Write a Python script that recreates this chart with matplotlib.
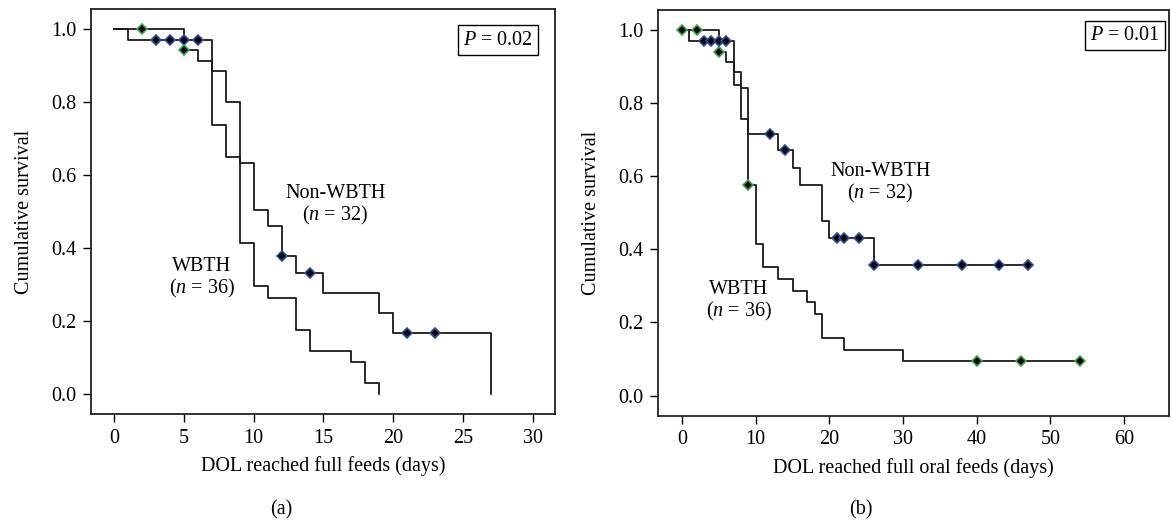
import numpy as np
import matplotlib
matplotlib.use("Agg")
import matplotlib.pyplot as plt

plt.rcParams['font.family'] = ['Liberation Serif', 'DejaVu Serif']
plt.rcParams['mathtext.fontset'] = 'custom'
plt.rcParams['mathtext.rm'] = 'Liberation Serif'
plt.rcParams['mathtext.it'] = 'Liberation Serif:italic'

# panel (a): full feeds
a_non_t = [0, 1, 7, 8, 9, 10, 11, 12, 13, 15, 19, 20, 27]
a_non_s = [1.0, 0.969, 0.885, 0.800, 0.632, 0.505, 0.462, 0.379, 0.331, 0.276, 0.222, 0.167, 0.0]
a_non_cx = [3, 4, 5, 6, 12, 14, 21, 23]
a_non_cy = [0.969, 0.969, 0.969, 0.969, 0.379, 0.331, 0.167, 0.167]

a_wb_t = [0, 5, 6, 7, 8, 9, 10, 11, 13, 14, 17, 18, 19]
a_wb_s = [1.0, 0.944, 0.913, 0.737, 0.649, 0.413, 0.296, 0.264, 0.176, 0.117, 0.089, 0.030, 0.0]
a_wb_cx = [2, 5]
a_wb_cy = [1.0, 0.944]

# panel (b): full oral feeds
b_non_t = [0, 1, 7, 8, 9, 13, 15, 16, 19, 20, 26, 47]
b_non_s = [1.0, 0.969, 0.885, 0.842, 0.716, 0.671, 0.622, 0.575, 0.479, 0.431, 0.358, 0.358]
b_non_cx = [3, 4, 5, 6, 12, 14, 21, 22, 24, 26, 32, 38, 43, 47]
b_non_cy = [0.969, 0.969, 0.969, 0.969, 0.716, 0.671, 0.431, 0.431, 0.431,
            0.358, 0.358, 0.358, 0.358, 0.358]

b_wb_t = [0, 5, 6, 7, 8, 9, 10, 11, 13, 15, 17, 18, 19, 22, 30, 54]
b_wb_s = [1.0, 0.940, 0.912, 0.849, 0.757, 0.577, 0.415, 0.351, 0.319, 0.287,
          0.255, 0.224, 0.158, 0.126, 0.094, 0.094]
b_wb_cx = [0, 2, 5, 9, 40, 46, 54]
b_wb_cy = [1.0, 1.0, 0.940, 0.577, 0.094, 0.094, 0.094]

yticks = [0.0, 0.2, 0.4, 0.6, 0.8, 1.0]
blue = '#2a4d9c'
green = '#3aa84a'
fs = 14.5

fig = plt.figure(figsize=(11.72, 5.26), dpi=100)
ax1 = fig.add_axes([91/1172, 1-414.3/526, (555-91)/1172, (414.3-9)/526])
ax2 = fig.add_axes([657.7/1172, 1-415.7/526, (1169-657.7)/1172, (415.7-10)/526])


def km(ax, t, s, cx, cy, col):
    ax.plot(t, s, drawstyle='steps-post', color='#1a1a1a', lw=1.3, zorder=2)
    ax.plot(cx, cy, 'D', ms=4.6, mfc='black', mec=col, mew=1.2, ls='none', zorder=3)


km(ax1, a_non_t, a_non_s, a_non_cx, a_non_cy, blue)
km(ax1, a_wb_t, a_wb_s, a_wb_cx, a_wb_cy, green)
km(ax2, b_non_t, b_non_s, b_non_cx, b_non_cy, blue)
km(ax2, b_wb_t, b_wb_s, b_wb_cx, b_wb_cy, green)

ax1.set_xlim(-1.67, 31.6)
ax1.set_xticks([0, 5, 10, 15, 20, 25, 30])
ax2.set_xlim(-3.3, 66.1)
ax2.set_xticks([0, 10, 20, 30, 40, 50, 60])

for ax in (ax1, ax2):
    ax.set_ylim(-0.055, 1.055)
    ax.set_yticks(yticks)
    ax.set_yticklabels(['%.1f' % v for v in yticks])
    ax.tick_params(direction='out', length=5.5, width=1.0, labelsize=fs, pad=5,
                   top=False, right=False)
    for sp in ax.spines.values():
        sp.set_linewidth(1.3)
        sp.set_color('#222222')
    ax.set_ylabel('Cumulative survival', fontsize=fs, labelpad=12)

ax1.set_xlabel('DOL reached full feeds (days)', fontsize=fs, labelpad=6)
ax2.set_xlabel('DOL reached full oral feeds (days)', fontsize=fs, labelpad=6)

box = dict(boxstyle='square,pad=0.25', fc='white', ec='black', lw=1.0)
ax1.text(0.877, 0.9235, r'$P$ = 0.02', transform=ax1.transAxes, ha='center',
         va='center', fontsize=fs, bbox=box)
ax2.text(0.913, 0.936, r'$P$ = 0.01', transform=ax2.transAxes, ha='center',
         va='center', fontsize=fs, bbox=box)

ax1.text(15.84, 0.518, 'Non-WBTH\n($n$ = 32)', ha='center', va='center',
         fontsize=fs, linespacing=1.05)
ax1.text(6.27, 0.318, 'WBTH\n($n$ = 36)', ha='center', va='center',
         fontsize=fs, linespacing=1.05)
ax2.text(26.9, 0.58, 'Non-WBTH\n($n$ = 32)', ha='center', va='center',
         fontsize=fs, linespacing=1.05)
ax2.text(7.7, 0.258, 'WBTH\n($n$ = 36)', ha='center', va='center',
         fontsize=fs, linespacing=1.05)

fig.text(281/1172, 1-510/526, '(a)', ha='center', va='center', fontsize=fs)
fig.text(861/1172, 1-510/526, '(b)', ha='center', va='center', fontsize=fs)

fig.savefig('out.png', dpi=100)
